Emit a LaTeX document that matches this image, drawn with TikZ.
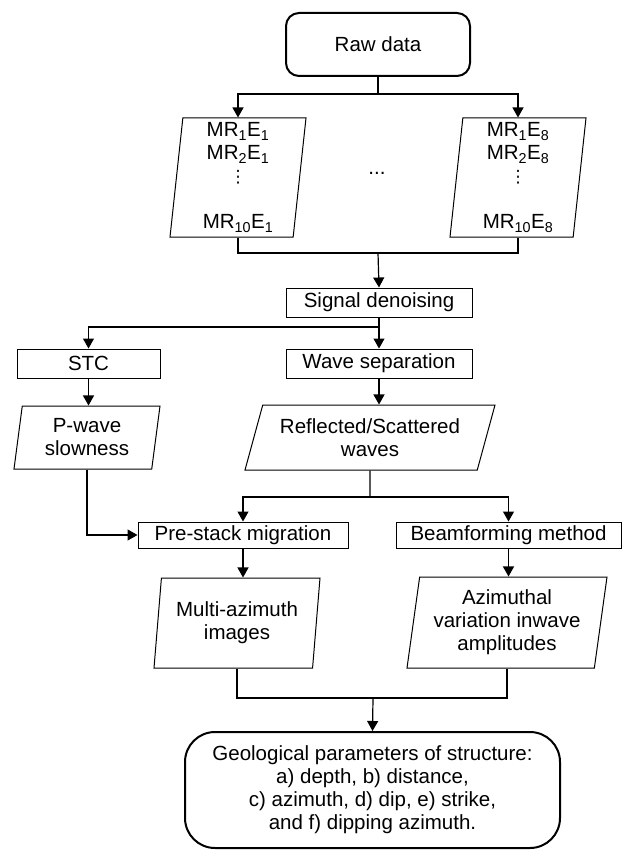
\documentclass[tikz,border=0pt]{standalone}
\usepackage{fontspec}
\setmainfont{Liberation Sans}
\newfontfamily\dotsfont{DejaVu Sans}
\usetikzlibrary{arrows.meta,shapes.geometric}
\newcommand{\mre}[2]{MR\textsubscript{#1}E\textsubscript{#2}}
\newcommand{\mrdots}{{\dotsfont\fontsize{17}{23}\selectfont ⋮}}
\begin{document}
\begin{tikzpicture}[x=1pt,y=-1pt,
  every node/.style={font=\fontsize{20.5}{23}\selectfont,align=center,inner sep=0pt},
  box/.style={draw,line width=1pt,minimum height=29pt},
  io/.style={draw,line width=1pt,trapezium,trapezium stretches body,trapezium left angle=#1,trapezium right angle=180-#1},
  term/.style={draw,line width=2pt,rounded corners=13pt},
  arr/.style={-{Triangle[length=10pt,width=11pt]},line width=1.2pt},
  line/.style={line width=1.2pt}]
\useasboundingbox (0,0) rectangle (636,850);
\node[term,minimum width=184pt,minimum height=63pt] (raw) at (378,44.5) {Raw data};
\node[io=83.3,minimum width=136pt,minimum height=119pt] (mr1) at (238,177.5) {\mre{1}{1}\\\mre{2}{1}\\\mrdots\\ \\\mre{10}{1}};
\node[io=83.3,minimum width=136pt,minimum height=119pt] (mr8) at (518,177.5) {\mre{1}{8}\\\mre{2}{8}\\\mrdots\\ \\\mre{10}{8}};
\node[anchor=base] (gap) at (377,175) {...};
\node[box,minimum width=186pt] (denoise) at (379,302.5) {Signal denoising};
\node[box,minimum width=143pt] (stc) at (88.5,363.5) {STC};
\node[box,minimum width=186pt] (wsep) at (379,363.5) {Wave separation};
\node[io=77.5,minimum width=146pt,minimum height=63pt] (pwave) at (87,437.5) {P-wave\\slowness};
\node[io=65,minimum width=250pt,minimum height=65pt] (refl) at (370,437.5) {Reflected/Scattered\\waves};
\node[box,minimum width=210pt,minimum height=26pt] (prestack) at (243,535) {Pre-stack migration};
\node[box,minimum width=225pt,minimum height=26pt] (beam) at (508.5,535) {Beamforming method};
\node[io=80,minimum width=166pt,minimum height=90pt] (multi) at (237,623) {Multi-azimuth\\images};
\node[io=79,minimum width=200pt,minimum height=91pt] (azim) at (507,622.5) {Azimuthal\\variation inwave\\amplitudes};
\node[term,rounded corners=30pt,minimum width=375pt,minimum height=116pt] (geo) at (372.5,790) {Geological parameters of structure:\\a) depth, b) distance,\\c) azimuth, d) dip, e) strike,\\and f) dipping azimuth.};
\coordinate (join1) at (378,253);
\coordinate (split1) at (379,327);
\coordinate (split2) at (370,497);
\coordinate (join2) at (373,698);
\draw[arr] (raw.south) -- ++(0,17) -| (mr1.north);
\draw[arr] (raw.south) -- ++(0,17) -| (mr8.north);
\draw[line] (mr1.south) |- (join1) -| (mr8.south);
\draw[arr] (join1) -- (denoise.north);
\draw[arr] (denoise.south) -- (wsep.north);
\draw[arr] (split1) -| (stc.north);
\draw[arr] (stc.south) -- (stc.south |- pwave.north);
\draw[arr] (wsep.south) -- (wsep.south |- refl.north);
\draw[line] (refl.south) -- (split2);
\draw[arr] (split2) -| (prestack.north);
\draw[arr] (split2) -| (beam.north);
\draw[arr] (pwave.south) |- (prestack.west);
\draw[arr] (prestack.south) -- (prestack.south |- multi.north);
\draw[arr] (beam.south) -- (beam.south |- azim.north);
\draw[line] (multi.south) |- (join2) -| (azim.south);
\draw[arr] (join2) -- (geo.north);
\end{tikzpicture}
\end{document}
